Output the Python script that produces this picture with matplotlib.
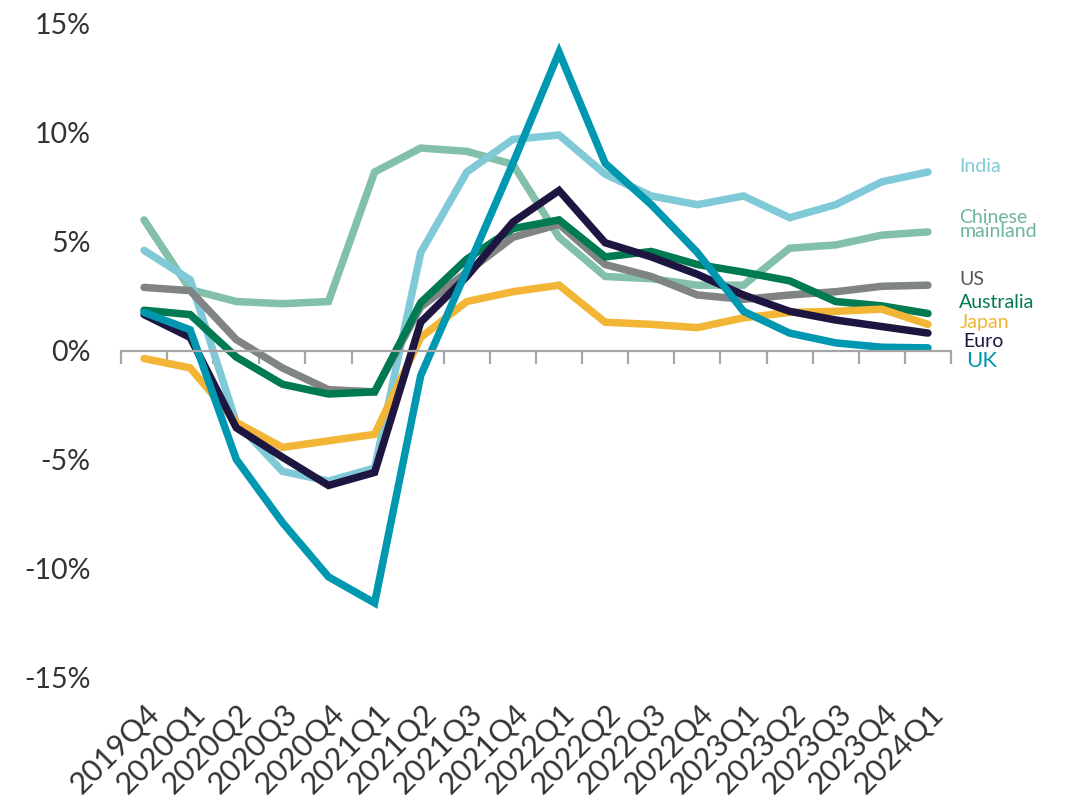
import numpy as np
import matplotlib.pyplot as plt

plt.rcParams['font.family'] = ['Lato', 'DejaVu Sans']

# Quarterly real GDP growth, year on year (%)
quarters = ['2019Q4', '2020Q1', '2020Q2', '2020Q3', '2020Q4', '2021Q1',
            '2021Q2', '2021Q3', '2021Q4', '2022Q1', '2022Q2', '2022Q3',
            '2022Q4', '2023Q1', '2023Q2', '2023Q3', '2023Q4', '2024Q1']

china = [6.0, 2.8, 2.25, 2.15, 2.25, 8.2, 9.3, 9.15, 8.55, 5.2, 3.4, 3.3,
         3.0, 3.0, 4.7, 4.85, 5.3, 5.45]
india = [4.6, 3.25, -3.3, -5.55, -6.0, -5.4, 4.5, 8.2, 9.7, 9.9, 8.1, 7.1,
         6.7, 7.1, 6.1, 6.7, 7.75, 8.2]
us = [2.9, 2.75, 0.5, -0.8, -1.8, -1.9, 2.0, 3.6, 5.2, 5.8, 3.95, 3.4,
      2.55, 2.35, 2.55, 2.7, 2.95, 3.0]
australia = [1.85, 1.65, -0.3, -1.55, -2.0, -1.9, 2.2, 4.2, 5.6, 6.0, 4.3, 4.55,
             3.95, 3.6, 3.2, 2.25, 2.05, 1.7]
japan = [-0.37, -0.8, -3.3, -4.45, -4.15, -3.85, 0.6, 2.25, 2.7, 3.0, 1.3, 1.2,
         1.05, 1.5, 1.75, 1.8, 1.9, 1.2]
euro = [1.65, 0.6, -3.55, -4.9, -6.2, -5.6, 1.3, 3.4, 5.9, 7.35, 4.95, 4.3,
        3.5, 2.55, 1.8, 1.4, 1.1, 0.8]
uk = [1.75, 0.95, -5.0, -7.9, -10.4, -11.6, -1.15, 3.7, 8.6, 13.7, 8.6, 6.7,
      4.5, 1.8, 0.8, 0.35, 0.15, 0.12]

# name, values, line colour, label x, label y, label colour, label size
series = [
    ('Chinese\nmainland', china, '#82C0AA', 17.68, 5.8, '#6DB59A', 14),
    ('India', india, '#80CAD8', 17.68, 8.45, '#80CAD8', 14),
    ('US', us, '#808484', 17.68, 3.25, '#555555', 14),
    ('Australia', australia, '#007A53', 17.68, 2.2, '#007A53', 14),
    ('Japan', japan, '#F2B535', 17.68, 1.3, '#F2B535', 14),
    ('Euro', euro, '#1E1641', 17.77, 0.4, '#1E1641', 14),
    ('UK', uk, '#0097B0', 17.83, -0.5, '#0097B0', 16),
]

fig = plt.figure(figsize=(10.71, 8.11), dpi=100)
ax = fig.add_axes([121 / 1071, 134 / 811, 830 / 1071, 653 / 811])

x = np.arange(len(quarters))
for name, vals, color, lx, ly, text_color, size in series:
    ax.plot(x, vals, color=color, lw=5.4, solid_capstyle='round',
            solid_joinstyle='miter')
    ax.text(lx, ly, name, color=text_color, fontsize=size,
            va='center', ha='left', linespacing=0.8)

ax.set_xlim(-0.5, 17.5)
ax.set_ylim(-15, 15)

# zero line with tick marks between the quarters
for side in ['left', 'right', 'top']:
    ax.spines[side].set_visible(False)
ax.spines['bottom'].set_position(('data', 0))
ax.spines['bottom'].set_color('#a6a6a6')
ax.spines['bottom'].set_linewidth(1.6)
ax.set_xticks(np.arange(-0.5, 18, 1))
ax.set_xticklabels([])
ax.tick_params(axis='x', length=9, width=1.6, color='#a6a6a6', direction='out')

yt = [-15, -10, -5, 0, 5, 10, 15]
ax.set_yticks(yt)
ax.set_yticklabels([f'{v}%' for v in yt], fontsize=20.5, color='#333333')
ax.tick_params(axis='y', length=0, pad=22)

for i, q in enumerate(quarters):
    ax.text(i + 0.02, -16.0, q, rotation=45, ha='right', va='top',
            rotation_mode='anchor', fontsize=22, color='#333333')

fig.savefig('out.png', dpi=100)
